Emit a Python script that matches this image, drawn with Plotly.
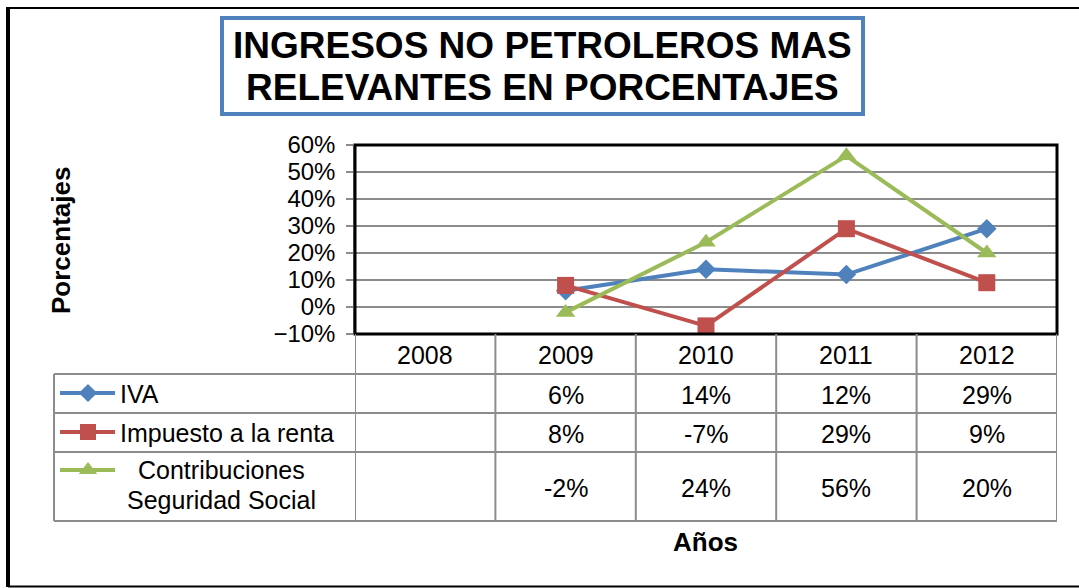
import plotly.graph_objects as go

# ---- data ----
years = ["2008", "2009", "2010", "2011", "2012"]
series_names = ["IVA", "Impuesto a la renta", "Contribuciones Seguridad Social"]
iva = [None, 0.06, 0.14, 0.12, 0.29]
renta = [None, 0.08, -0.07, 0.29, 0.09]
contrib = [None, -0.02, 0.24, 0.56, 0.20]
title_lines = ["INGRESOS NO PETROLEROS MAS", "RELEVANTES EN PORCENTAJES"]
y_title = "Porcentajes"
x_title = "Años"

W, H = 1079, 588
FONT = "Liberation Sans, Arial, sans-serif"
colors = ["#4F81BD", "#C0504D", "#9BBB59"]
symbols = ["diamond", "square", "triangle-up"]
msizes = [15, 17, 17]
values = [iva, renta, contrib]


def px(x):
    return x / W


def py(y):
    return 1 - y / H


PL, PR, PT, PB = 355, 1057, 145, 334
xs = list(range(len(years)))

fig = go.Figure()
for name, vals, c, s, ms in zip(series_names, values, colors, symbols, msizes):
    fig.add_trace(go.Scatter(
        x=xs, y=vals, mode="lines+markers", name=name,
        line=dict(color=c, width=4),
        marker=dict(symbol=s, size=ms, color=c),
        connectgaps=False, showlegend=False, cliponaxis=False,
        xaxis="x", yaxis="y"))

# legend keys drawn inside the data table (full-page pixel axes)
row_y = [393, 432, 470]
for c, s, ms, ry in zip(colors, symbols, msizes, row_y):
    fig.add_trace(go.Scatter(x=[60, 115], y=[ry, ry], mode="lines",
                             line=dict(color=c, width=4), showlegend=False,
                             xaxis="x2", yaxis="y2", hoverinfo="skip"))
    fig.add_trace(go.Scatter(x=[88], y=[ry], mode="markers",
                             marker=dict(symbol=s, size=ms - 1, color=c),
                             showlegend=False, xaxis="x2", yaxis="y2", hoverinfo="skip"))

shapes = []
annotations = []

# outer frame
shapes.append(dict(type="line", xref="paper", yref="paper", x0=px(8), x1=px(1079), y0=py(8), y1=py(8),
                   line=dict(color="black", width=2)))
shapes.append(dict(type="line", xref="paper", yref="paper", x0=px(8), x1=px(8), y0=py(7), y1=py(587),
                   line=dict(color="black", width=4)))
shapes.append(dict(type="line", xref="paper", yref="paper", x0=px(8), x1=px(1079), y0=py(586.5), y1=py(586.5),
                   line=dict(color="black", width=2)))

# title box
shapes.append(dict(type="rect", xref="paper", yref="paper", x0=px(222), x1=px(863), y0=py(18), y1=py(114),
                   line=dict(color="#4F81BD", width=4), fillcolor="white", layer="below"))
TITLE_FS = 37
annotations.append(dict(text="<b>%s</b>" % title_lines[0], x=px(542), y=py(46), xref="paper", yref="paper",
                        showarrow=False, font=dict(family=FONT, size=TITLE_FS, color="black"),
                        xanchor="center", yanchor="middle"))
annotations.append(dict(text="<b>%s</b>" % title_lines[1], x=px(542), y=py(88), xref="paper", yref="paper",
                        showarrow=False, font=dict(family=FONT, size=TITLE_FS, color="black"),
                        xanchor="center", yanchor="middle"))

# plot area thick border
shapes.append(dict(type="rect", xref="paper", yref="paper", x0=px(PL), x1=px(PR), y0=py(PB), y1=py(PT),
                   line=dict(color="black", width=3), layer="above"))

# data table grid
GRID = "#8C8C8C"
TT, R1, R2, R3, TB = 334, 374, 413, 452, 521
TL = 54
for k in range(len(years) + 1):
    shapes.append(dict(type="line", xref="x", yref="paper", x0=k - 0.5, x1=k - 0.5, y0=py(TT), y1=py(TB),
                       line=dict(color=GRID, width=2)))
shapes.append(dict(type="line", xref="paper", yref="paper", x0=px(TL), x1=px(TL), y0=py(R1), y1=py(TB),
                   line=dict(color=GRID, width=2)))
for yy in [R1, R2, R3, TB]:
    shapes.append(dict(type="line", xref="paper", yref="paper", x0=px(TL), x1=px(PR), y0=py(yy), y1=py(yy),
                       line=dict(color=GRID, width=2)))

TFS = 25
for i, yr in enumerate(years):
    annotations.append(dict(text=yr, x=i, y=py((TT + R1) / 2 + 1), xref="x", yref="paper", showarrow=False,
                            font=dict(family=FONT, size=TFS, color="black"), xanchor="center", yanchor="middle"))
row_centers = [(R1 + R2) / 2, (R2 + R3) / 2, (R3 + TB) / 2]
for vals, rc in zip(values, row_centers):
    for i, v in enumerate(vals):
        if v is None:
            continue
        annotations.append(dict(text="%d%%" % round(v * 100), x=i, y=py(rc + 1), xref="x", yref="paper",
                                showarrow=False, font=dict(family=FONT, size=TFS, color="black"),
                                xanchor="center", yanchor="middle"))

# legend labels
annotations.append(dict(text=series_names[0], x=px(118), y=py(394), xref="paper", yref="paper", showarrow=False,
                        font=dict(family=FONT, size=TFS, color="black"), xanchor="left", yanchor="middle"))
annotations.append(dict(text=series_names[1], x=px(118), y=py(433), xref="paper", yref="paper", showarrow=False,
                        font=dict(family=FONT, size=TFS, color="black"), xanchor="left", yanchor="middle"))
c_words = series_names[2].split(" ", 1)
annotations.append(dict(text=c_words[0], x=px(221), y=py(470), xref="paper", yref="paper", showarrow=False,
                        font=dict(family=FONT, size=TFS, color="black"), xanchor="center", yanchor="middle"))
annotations.append(dict(text=c_words[1], x=px(221), y=py(500), xref="paper", yref="paper", showarrow=False,
                        font=dict(family=FONT, size=TFS, color="black"), xanchor="center", yanchor="middle"))

# axis titles
annotations.append(dict(text="<b>%s</b>" % x_title, x=px(705), y=py(542), xref="paper", yref="paper",
                        showarrow=False, font=dict(family=FONT, size=26, color="black"),
                        xanchor="center", yanchor="middle"))
annotations.append(dict(text="<b>%s</b>" % y_title, x=px(61), y=py(241), xref="paper", yref="paper",
                        showarrow=False, textangle=-90, font=dict(family=FONT, size=26, color="black"),
                        xanchor="center", yanchor="middle"))

fig.update_layout(
    width=W, height=H,
    margin=dict(l=0, r=0, t=0, b=0, pad=0, autoexpand=False),
    paper_bgcolor="white", plot_bgcolor="rgba(0,0,0,0)",
    font=dict(family=FONT, color="black"),
    xaxis=dict(domain=[px(PL), px(PR)], range=[-0.5, len(years) - 0.5], showticklabels=False,
               showgrid=False, zeroline=False, ticks="", fixedrange=True, anchor="y", automargin=False),
    yaxis=dict(domain=[py(PB), py(PT)], range=[-0.1, 0.6], dtick=0.1, tick0=0, tickformat=".0%",
               showgrid=True, gridcolor="#8C8C8C", gridwidth=1.5, zeroline=False,
               ticks="outside", ticklen=7, tickcolor="#8C8C8C", tickwidth=1.5,
               showline=True, linecolor="#8C8C8C", linewidth=1.5,
               ticklabelstandoff=6, anchor="x", automargin=False, fixedrange=True,
               tickfont=dict(family=FONT, size=24, color="black")),
    xaxis2=dict(domain=[0, 1], range=[0, W], visible=False, fixedrange=True, anchor="y2", automargin=False),
    yaxis2=dict(domain=[0, 1], range=[H, 0], visible=False, fixedrange=True, anchor="x2", automargin=False),
    shapes=shapes, annotations=annotations,
)

post = ("document.body.style.margin='0';"
        "var d=document.getElementById('{plot_id}');"
        "d.style.position='absolute';d.style.left='0px';d.style.top='0px';")
fig.write_html("out.html", post_script=post, config={"displayModeBar": False})
